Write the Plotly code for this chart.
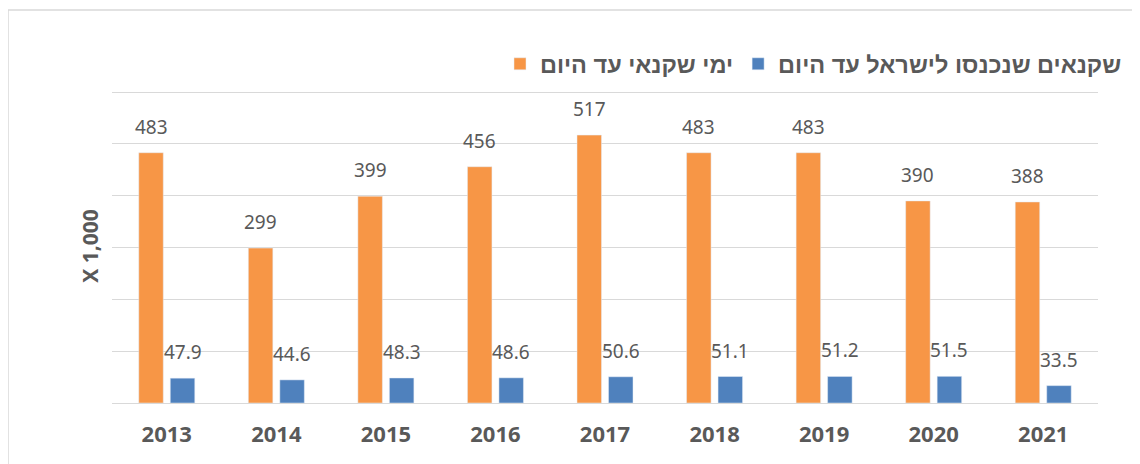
import plotly.graph_objects as go

years = ["2013", "2014", "2015", "2016", "2017", "2018", "2019", "2020", "2021"]
pelican_days = [483, 299, 399, 456, 517, 483, 483, 390, 388]
pelicans_entered = [47.9, 44.6, 48.3, 48.6, 50.6, 51.1, 51.2, 51.5, 33.5]
name_days = "ימי שקנאי עד היום"
name_entered = "שקנאים שנכנסו לישראל עד היום"
y_title = "X 1,000"
y_max = 606

# the page places the figure 8px from the window's top-left (default body margin)
OFF = 8
WIN_W, WIN_H = 1140, 464
W, H = WIN_W - OFF, WIN_H - OFF
L, R, T, B = 112 - OFF, 42, 89 - OFF, 61
pw = W - L - R
ph = H - T - B

ORANGE = "#F79646"
BLUE = "#4F81BD"
GRAY = "#595959"
GRID = "#D9D9D9"

bargap = 0.425
bargroupgap = 0.222
cat_w = pw / len(years)
slot = cat_w * (1 - bargap) / 2

fig = go.Figure()
fig.add_trace(go.Bar(x=years, y=pelican_days, name=name_days, marker_color=ORANGE))
fig.add_trace(go.Bar(x=years, y=pelicans_entered, name=name_entered, marker_color=BLUE))

annotations = []
for vals, shift in ((pelican_days, -slot / 2), (pelicans_entered, slot / 2)):
    for i, yv in enumerate(vals):
        annotations.append(dict(
            x=i, y=yv, text=str(yv), showarrow=False, xref="x", yref="y",
            xanchor="center", yanchor="bottom", xshift=shift, yshift=11,
            font=dict(family="Noto Sans, Open Sans, sans-serif", size=19, color=GRAY),
        ))

fig.update_layout(
    width=W, height=H,
    margin=dict(l=L, r=R, t=T, b=B, pad=0, autoexpand=False),
    paper_bgcolor="white", plot_bgcolor="white",
    barmode="group", bargap=bargap, bargroupgap=bargroupgap,
    showlegend=True,
    legend=dict(
        orientation="h", x=(1127 - OFF - L) / pw, xanchor="right",
        y=(WIN_H - B - 64) / ph, yanchor="middle",
        font=dict(family="Liberation Sans, Arial, sans-serif", size=23.5, color=GRAY, weight="bold"),
        traceorder="normal", bgcolor="rgba(0,0,0,0)",
        itemwidth=30,
    ),
    annotations=annotations,
    xaxis=dict(
        type="category", range=[-0.5, len(years) - 0.5], automargin=False,
        showgrid=False, showline=True, linecolor=GRID, linewidth=1,
        ticks="", ticklabelstandoff=12,
        tickfont=dict(family="Open Sans, sans-serif", size=22, color=GRAY, weight="bold"),
    ),
    yaxis=dict(
        range=[0, y_max], dtick=100, showgrid=True, gridcolor=GRID, gridwidth=1,
        showticklabels=False, zeroline=False, showline=False, ticks="", automargin=False,
        title=dict(text=y_title, standoff=6,
                   font=dict(family="Open Sans, sans-serif", size=21, color=GRAY, weight="bold")),
    ),
    shapes=[dict(
        type="rect", xref="paper", yref="paper",
        x0=(8 - OFF - L) / pw, x1=(W + 20 - L) / pw,
        y0=-(B + 20) / ph, y1=(WIN_H - B - 10) / ph,
        line=dict(color=GRID, width=1.5), fillcolor="rgba(0,0,0,0)", layer="below",
    )],
)

fig.write_html("out.html")
